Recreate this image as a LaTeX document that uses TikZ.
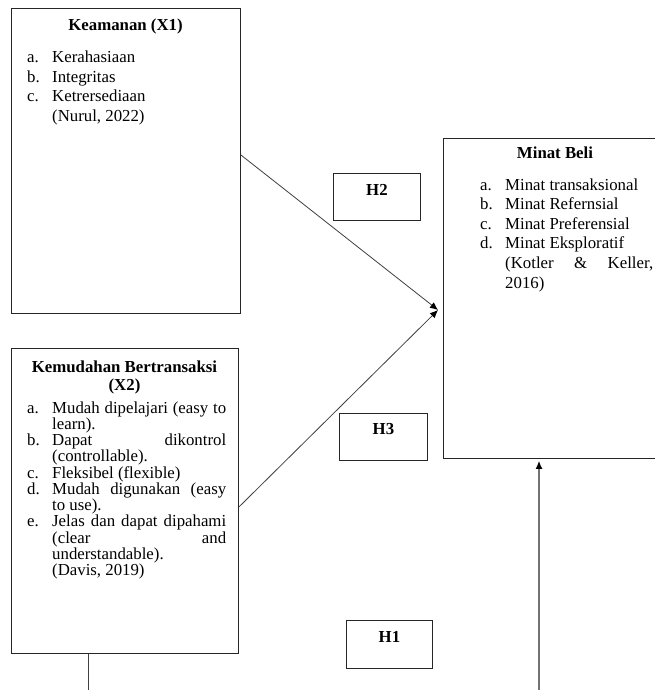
\documentclass[tikz,border=0pt]{standalone}
\usepackage{fontspec}
\setmainfont{Liberation Serif}
\usetikzlibrary{arrows.meta,calc}
\newcommand\itm[2]{\par\hangindent=25pt\hangafter=1\noindent\makebox[25pt][l]{#1}#2}
\newcommand\lsetup[1]{\fontsize{16.8}{#1}\selectfont\tolerance=10000\hbadness=10000\hfuzz=3pt}
\begin{document}
\begin{tikzpicture}[x=1pt,y=-1pt,
  box/.style={draw=black!85, line width=0.9pt, anchor=north west, inner sep=0pt},
  ttl/.style={font=\fontsize{16.8}{15.5}\selectfont\bfseries, anchor=base, inner sep=0pt},
  lst/.style={anchor=base west, inner sep=0pt},
  con/.style={draw=black!75, line width=0.8pt},
  upcon/.style={draw=black!55, line width=1.3pt},
  tipa/.style={-{Latex[length=8pt,width=7pt,color=black]}}]
\useasboundingbox (0,0) rectangle (655,690);
\clip (0,0) rectangle (655,690);
\fill[white] (0,0) rectangle (655,690);

% Keamanan box
\node[box, minimum width=229pt, minimum height=305pt] (x1) at (11,8) {};
\node[ttl] (x1t) at (125.5,31) {Keamanan (X1)};
\node[lst] (x1l) at (27,63) {\parbox[t]{197pt}{\lsetup{19.5}%
  \itm{a.}{Kerahasiaan}%
  \itm{b.}{Integritas}%
  \itm{c.}{Ketrersediaan\newline(Nurul, 2022)}}};

% Kemudahan box
\node[box, minimum width=227pt, minimum height=305pt] (x2) at (11,348) {};
\node[ttl] (x2t) at (124.5,372) {Kemudahan Bertransaksi};
\node[ttl] (x2t2) at (124.5,390) {(X2)};
\node[lst] (x2l) at (27,413) {\parbox[t]{199pt}{\lsetup{15}%
  \itm{a.}{Mudah dipelajari (easy to\linebreak learn).}%
  \itm{b.}{Dapat dikontrol\linebreak (controllable).}%
  \itm{c.}{Fleksibel (flexible)}%
  \itm{d.}{Mudah digunakan (easy\linebreak to use).}%
  \itm{e.}{Jelas dan dapat dipahami\linebreak (clear and\linebreak understandable).\newline(Davis, 2019)}}};

% Minat Beli box
\node[box, minimum width=224pt, minimum height=320pt] (mb) at (443,138) {};
\node[ttl] (mbt) at (555,158) {Minat Beli};
\node[lst] (mbl) at (480,190) {\parbox[t]{173pt}{\lsetup{19.6}%
  \itm{a.}{Minat transaksional}%
  \itm{b.}{Minat Refernsial}%
  \itm{c.}{Minat Preferensial}%
  \itm{d.}{Minat Eksploratif\newline(Kotler \& Keller,\linebreak 2016)}}};

% hypothesis boxes
\node[box, minimum width=87pt, minimum height=47pt] (h2) at (333,173) {};
\node[ttl] (h2t) at ($(h2.north)+(0,22)$) {H2};
\node[box, minimum width=88pt, minimum height=47pt] (h3) at (339,413) {};
\node[ttl] (h3t) at ($(h3.north)+(0,21)$) {H3};
\node[box, minimum width=86pt, minimum height=48pt] (h1) at (346,620) {};
\node[ttl] (h1t) at ($(h1.north)+(0,22)$) {H1};

% connectors
\coordinate (tip) at (438,310);
\draw[con, tipa] ($(x1.north east)+(0,147)$) -- (tip);
\draw[con, tipa] ($(x2.north east)+(0,159)$) -- (tip);
\coordinate (x2end) at (88,692);
\draw[con] (x2end |- x2.south) -- (x2end);
\coordinate (upstart) at (539,692);
\draw[upcon, tipa] (upstart) -- ($(upstart |- mb.south)+(0,2)$);
\end{tikzpicture}
\end{document}
